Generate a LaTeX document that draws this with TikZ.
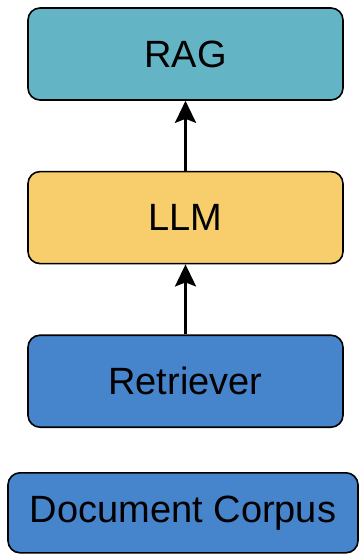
\documentclass[tikz,border=0pt]{standalone}
\usepackage{fontspec}
\setmainfont{Liberation Sans}
\usepackage{xcolor}
\usepackage{tikz}
\usetikzlibrary{arrows.meta,positioning}

\definecolor{ragteal}{HTML}{63B5C6}
\definecolor{llmyellow}{HTML}{F8CE6C}
\definecolor{retblue}{HTML}{4684CC}

\begin{document}
\begin{tikzpicture}[
    node distance=70pt,
    box/.style={draw, line width=1.6pt, rounded corners=12pt, align=center, minimum width=315pt, minimum height=92pt, font=\fontsize{38}{44}\selectfont},
    ragbox/.style={box, fill=ragteal},
    llmbox/.style={box, fill=llmyellow},
    retbox/.style={box, fill=retblue},
    corpbox/.style={box, fill=retblue, minimum width=350pt, minimum height=80pt},
    arr/.style={-{Stealth[length=22pt,width=21pt,inset=4pt]}, line width=3pt}
]
\useasboundingbox (0,0) rectangle (359pt,-554pt);
\node[ragbox] (rag) at (185.5pt,-54pt) {RAG};
\node[llmbox, below=of rag] (llm) {LLM};
\node[retbox, below=of llm] (ret) {Retriever};
\node[corpbox, below=44pt of ret, xshift=-2.5pt] (corpus) {Document Corpus};
\draw[arr] (ret) -- (llm);
\draw[arr] (llm) -- (rag);
\end{tikzpicture}
\end{document}
